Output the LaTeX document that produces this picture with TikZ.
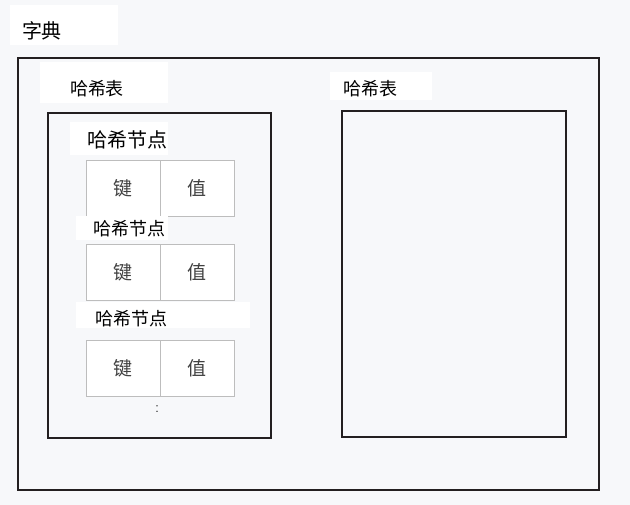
\documentclass[tikz,border=0pt]{standalone}
\usepackage{fontspec}
\newfontfamily\cjk{Noto Sans CJK SC}
\definecolor{bgray}{HTML}{F7F8FA}
\definecolor{cellgray}{HTML}{BDBDBD}
\definecolor{boxdark}{HTML}{231F20}
\tikzset{
  patch/.style={fill=white,draw=none},
  frame/.style={draw=boxdark,line width=2pt},
  cell/.style={draw=cellgray,fill=white,line width=0.8pt,minimum width=74pt,minimum height=56pt,inner sep=0pt,font=\cjk\fontsize{19}{19}\selectfont,text=black!75},
  lbl/.style={font=\cjk\fontsize{18}{18}\selectfont,inner sep=0pt}
}
\begin{document}
\begin{tikzpicture}[x=1pt,y=-1pt]
    % Background and page size
    \fill[bgray] (0,0) rectangle (630,505);
    \useasboundingbox (0,0) rectangle (630,505);

    % Dictionary
    \fill[patch] (10,5) rectangle (118,45);
    \node[lbl,font=\cjk\fontsize{20}{20}\selectfont] (dict) at (42,31) {字典};
    \draw[frame] (18,58) rectangle (599,490);

    % Left hash table
    \fill[patch] (40,62) rectangle (168,103);
    \node[lbl] (tableA) at (97,89) {哈希表};
    \draw[frame] (48,113) rectangle (271,438);

    % Hash nodes
    \fill[patch] (70,122) rectangle (168,155);
    \node[lbl,font=\cjk\fontsize{20}{20}\selectfont] (nodeA) at (127,140) {哈希节点};
    \node[cell] (keyA) at (123,188) {键};
    \node[cell] (valA) at (197,188) {值};

    \fill[patch] (76,216) rectangle (168,240);
    \node[lbl] (nodeB) at (129,229) {哈希节点};
    \node[cell] (keyB) at (123,272) {键};
    \node[cell] (valB) at (197,272) {值};

    \fill[patch] (76,302) rectangle (250,328);
    \node[lbl] (nodeC) at (131,319) {哈希节点};
    \node[cell] (keyC) at (123,368) {键};
    \node[cell] (valC) at (197,368) {值};

    \node[lbl,font=\fontsize{16}{16}\selectfont] (more) at (157,409) {:};

    % Right hash table
    \fill[patch] (330,72) rectangle (432,100);
    \node[lbl] (tableB) at (370,89) {哈希表};
    \draw[frame] (342,111) rectangle (566,437);
\end{tikzpicture}
\end{document}
